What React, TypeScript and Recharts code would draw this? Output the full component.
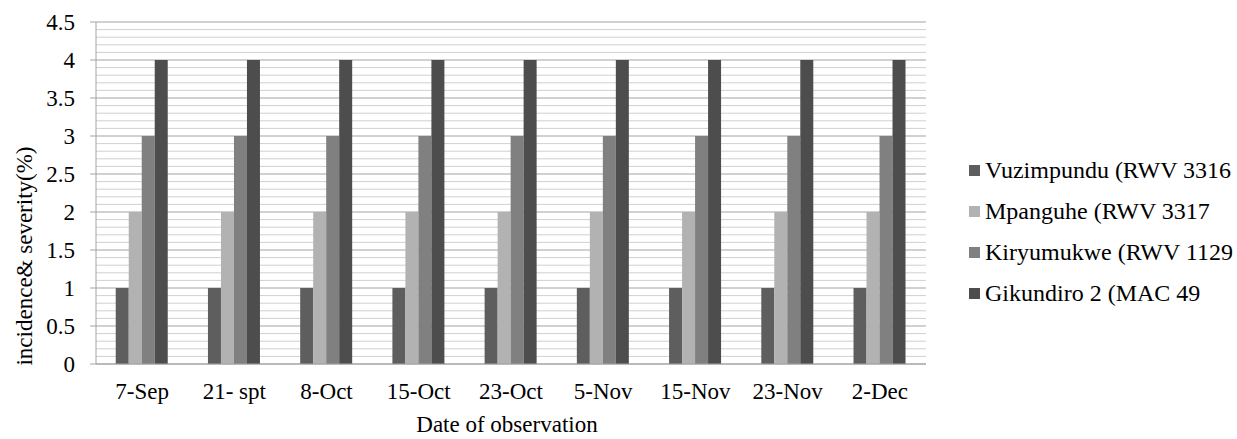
import React from "react";
import { BarChart, Bar, XAxis, YAxis, CartesianGrid, Label } from "recharts";

const categories = ["7-Sep", "21- spt", "8-Oct", "15-Oct", "23-Oct", "5-Nov", "15-Nov", "23-Nov", "2-Dec"];
const vuzimpundu = [1, 1, 1, 1, 1, 1, 1, 1, 1];
const mpanguhe = [2, 2, 2, 2, 2, 2, 2, 2, 2];
const kiryumukwe = [3, 3, 3, 3, 3, 3, 3, 3, 3];
const gikundiro = [4, 4, 4, 4, 4, 4, 4, 4, 4];
const yTicks = [0, 0.5, 1, 1.5, 2, 2.5, 3, 3.5, 4, 4.5];
const minorValues = [
  0.1, 0.2, 0.3, 0.4, 0.6, 0.7, 0.8, 0.9, 1.1, 1.2, 1.3, 1.4, 1.6, 1.7, 1.8, 1.9,
  2.1, 2.2, 2.3, 2.4, 2.6, 2.7, 2.8, 2.9, 3.1, 3.2, 3.3, 3.4, 3.6, 3.7, 3.8, 3.9,
  4.1, 4.2, 4.3, 4.4,
];

const series = [
  { key: "v", name: "Vuzimpundu (RWV 3316", color: "#5e5e5e", values: vuzimpundu },
  { key: "m", name: "Mpanguhe (RWV 3317", color: "#b2b2b2", values: mpanguhe },
  { key: "k", name: "Kiryumukwe (RWV 1129", color: "#808080", values: kiryumukwe },
  { key: "g", name: "Gikundiro 2 (MAC 49", color: "#4d4d4d", values: gikundiro },
];

const data = categories.map((c, i) => {
  const row: Record<string, any> = { cat: c };
  series.forEach((s) => (row[s.key] = s.values[i]));
  return row;
});

const FONT = "'Liberation Serif', serif";
const FS = 23;

const YTitle = () => (
  <text
    x={24}
    y={256}
    transform="rotate(-90 24 256)"
    textAnchor="middle"
    dominantBaseline="central"
    fill="#000"
    fontSize={FS}
    fontFamily={FONT}
  >
    incidence&amp; severity(%)
  </text>
);

const XTitle = () => (
  <text x={507} y={432} textAnchor="middle" fill="#000" fontSize={FS} fontFamily={FONT}>
    Date of observation
  </text>
);

export default function App() {
  return (
    <div style={{ position: "absolute", left: 0, top: 0, width: 1237, height: 439, background: "#fff", overflow: "hidden" }}>
      <BarChart
        width={1237}
        height={439}
        data={data}
        margin={{ top: 22, right: 311, bottom: 0, left: 0 }}
        barCategoryGap="21.4%"
        barGap={0}
        style={{ fontFamily: FONT }}
      >
        <CartesianGrid horizontalValues={minorValues} vertical={false} stroke="#d0d0d0" />
        <CartesianGrid horizontalValues={yTicks} vertical={false} stroke="#a3a3a3" />
        <XAxis
          dataKey="cat"
          height={75}
          tickLine={false}
          axisLine={{ stroke: "#a3a3a3" }}
          tick={{ fill: "#000", fontSize: FS, fontFamily: FONT }}
          tickMargin={13}
        >
          <Label content={<XTitle />} />
        </XAxis>
        <YAxis
          width={96}
          domain={[0, 4.5]}
          ticks={yTicks}
          interval={0}
          tickLine={{ stroke: "#a3a3a3" }}
          axisLine={{ stroke: "#a3a3a3" }}
          tick={{ fill: "#000", fontSize: FS, fontFamily: FONT }}
          tickMargin={15}
        >
          <Label content={<YTitle />} />
        </YAxis>
        {series.map((s) => (
          <Bar key={s.key} dataKey={s.key} name={s.name} fill={s.color} isAnimationActive={false} />
        ))}
      </BarChart>
      <div
        style={{
          position: "absolute",
          left: 969,
          top: 150,
          fontFamily: FONT,
          fontSize: 24,
          color: "#000",
          whiteSpace: "nowrap",
        }}
      >
        {series.map((s) => (
          <div key={s.key} style={{ display: "flex", alignItems: "center", height: 41 }}>
            <span style={{ width: 11, height: 11, background: s.color, display: "inline-block", marginRight: 5, flex: "none" }} />
            <span>{s.name}</span>
          </div>
        ))}
      </div>
    </div>
  );
}
